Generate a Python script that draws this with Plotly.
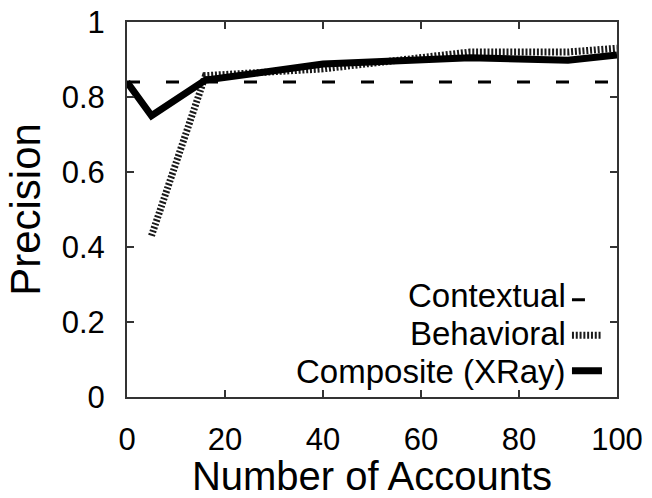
import plotly.graph_objects as go

# Data
ctx_x = [0, 100]
ctx_y = [0.84, 0.84]

beh_x = [5, 16, 40, 70, 90, 100]
beh_y = [0.43, 0.857, 0.875, 0.92, 0.92, 0.93]

comp_x = [0, 5, 16, 40, 70, 90, 100]
comp_y = [0.84, 0.75, 0.845, 0.888, 0.905, 0.898, 0.912]

labels = ["Contextual", "Behavioral", "Composite (XRay)"]

FONT = "Liberation Sans, Arial, sans-serif"

fig = go.Figure()
fig.add_trace(go.Scatter(x=beh_x, y=beh_y, mode="lines", name=" ",
                         line=dict(color="#1a1a1a", width=7, dash="2px,1.8px"),
                         legendrank=2))
fig.add_trace(go.Scatter(x=comp_x, y=comp_y, mode="lines", name=" ",
                         line=dict(color="black", width=7),
                         legendrank=3))
fig.add_trace(go.Scatter(x=ctx_x, y=ctx_y, mode="lines", name=" ",
                         line=dict(color="black", width=3, dash="13px,26px"),
                         legendrank=1))

axis_common = dict(showline=True, linecolor="#333", linewidth=2, mirror="allticks",
                   ticks="inside", ticklen=7, tickwidth=1.5, tickcolor="#333",
                   showgrid=False, zeroline=False, automargin=False,
                   tickfont=dict(family=FONT, size=31, color="black"))

fig.update_xaxes(range=[0, 100], tickvals=[0, 20, 40, 60, 80, 100],
                 ticklabelstandoff=14,
                 title=dict(text="Number of Accounts", font=dict(family=FONT, size=40, color="black"),
                            standoff=18),
                 **axis_common)
fig.update_yaxes(range=[0, 1], tickvals=[0, 0.2, 0.4, 0.6, 0.8, 1],
                 ticklabelstandoff=14,
                 title=dict(text="Precision", font=dict(family=FONT, size=42, color="black"),
                            standoff=8),
                 **axis_common)

fig.update_layout(
    width=652, height=498,
    margin=dict(l=127, r=35, t=22, b=101),
    plot_bgcolor="white", paper_bgcolor="white",
    showlegend=True,
    legend=dict(x=1.004, xanchor="right", y=0.008, yanchor="bottom",
                bgcolor="rgba(0,0,0,0)", borderwidth=0,
                font=dict(family=FONT, size=25, color="black"),
                traceorder="normal", itemwidth=30),
)

row_y = [0.271, 0.170, 0.069]
for txt, yy in zip(labels, row_y):
    fig.add_annotation(text=txt, xref="paper", yref="paper", x=0.90, y=yy,
                       xanchor="right", yanchor="middle", showarrow=False,
                       font=dict(family=FONT, size=33, color="black"))

fig.write_html("out.html")
